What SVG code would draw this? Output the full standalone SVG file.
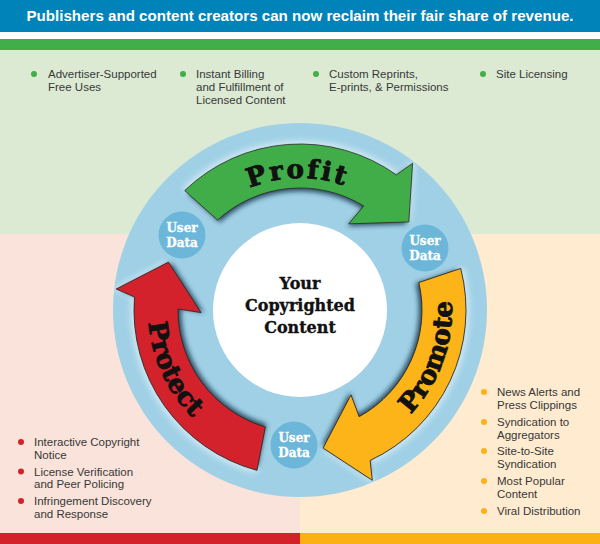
<svg xmlns="http://www.w3.org/2000/svg" xmlns:xlink="http://www.w3.org/1999/xlink" width="600" height="544" viewBox="0 0 600 544">
<style>
.bt{font-family:"Liberation Sans",Arial,sans-serif;font-size:11.5px;fill:#383838}
.ud{font-family:"DejaVu Serif",serif;font-weight:bold;font-size:12px;fill:#ffffff;stroke:#ffffff;stroke-width:0.3;text-anchor:middle}
.ct{font-family:"DejaVu Serif",serif;font-weight:bold;font-size:16px;fill:#111111;stroke:#111111;stroke-width:0.35;text-anchor:middle}
.at{font-family:"DejaVu Serif",serif;font-weight:bold;font-size:26px;fill:#111111;stroke:#111111;stroke-width:0.9;stroke-linejoin:round}
.arr{stroke:#2a2a2a;stroke-width:0.8;stroke-linejoin:miter}
.sh{fill:#0e2c40;opacity:0.85}
.gl{fill:#ffffff;opacity:0.55}
.udc{fill:#6cb7d9}
</style>
<defs>
<path id="pA" d="M184.69,190.59 A166,166 0 0 1 396.40,174.86 L412.62,163.23 L408.80,221.90 L348.75,223.83 L363.75,205.98 A122,122 0 0 0 217.58,220.05 Z"/>
<path id="tProfit" d="M168,310 A132,132 0 0 1 431.92,305.39"/>
<path id="tPromote" d="M250.51,453.72 A152,152 0 0 0 354.47,168.10"/>
<path id="tProtect" d="M233.37,173.38 A152,152 0 0 0 361.82,448.86"/>
<filter id="blur" x="-20%" y="-20%" width="140%" height="140%"><feGaussianBlur stdDeviation="2.5"/></filter>
<filter id="glow" x="-20%" y="-20%" width="140%" height="140%"><feGaussianBlur stdDeviation="3"/></filter>
</defs>

<g id="background">
<rect x="0" y="0" width="600" height="544" fill="#ffffff"/>
<rect x="0" y="0" width="600" height="32" fill="#0083b8"/>
<rect x="0" y="39" width="600" height="11" fill="#40ae49"/>
<rect x="0" y="50" width="600" height="184" fill="#dcead4"/>
<rect x="0" y="234" width="300" height="299" fill="#f9e3da"/>
<rect x="300" y="234" width="300" height="299" fill="#feebd0"/>
<rect x="0" y="533" width="300" height="11" fill="#d2232b"/>
<rect x="300" y="533" width="300" height="11" fill="#fbb116"/>
<text x="300" y="21" text-anchor="middle" textLength="547" lengthAdjust="spacingAndGlyphs" font-family="Liberation Sans,Arial,sans-serif" font-weight="bold" font-size="14" fill="#ffffff">Publishers and content creators can now reclaim their fair share of revenue.</text>
</g>

<g id="ring">
<circle cx="300" cy="310" r="187" fill="#9fd0e6"/>
</g>

<g id="connectors">
<g id="arrow-profit">
<use xlink:href="#pA" class="gl" filter="url(#glow)" transform="translate(300 310) scale(1.02) translate(-300 -310)"/>
<use xlink:href="#pA" class="sh" filter="url(#blur)" transform="translate(300 310) scale(0.975) translate(-300 -310)"/>
<use xlink:href="#pA" class="arr" fill="#40ad48"/>
</g>
<g id="arrow-promote">
<use xlink:href="#pA" class="gl" filter="url(#glow)" transform="rotate(119.5 300 310) translate(300 310) scale(1.02) translate(-300 -310)"/>
<use xlink:href="#pA" class="sh" filter="url(#blur)" transform="rotate(119.5 300 310) translate(300 310) scale(0.975) translate(-300 -310)"/>
<use xlink:href="#pA" class="arr" fill="#fcb418" transform="rotate(119.5 300 310)"/>
</g>
<g id="arrow-protect">
<use xlink:href="#pA" class="gl" filter="url(#glow)" transform="rotate(239 300 310) translate(300 310) scale(1.02) translate(-300 -310)"/>
<use xlink:href="#pA" class="sh" filter="url(#blur)" transform="rotate(239 300 310) translate(300 310) scale(0.975) translate(-300 -310)"/>
<use xlink:href="#pA" class="arr" fill="#d3222b" transform="rotate(239 300 310)"/>
</g>
</g>

<g id="labels">
<text class="at" font-size="27" letter-spacing="2.5"><textPath xlink:href="#tProfit" startOffset="50%" text-anchor="middle">Profit</textPath></text>
<text class="at"><textPath xlink:href="#tPromote" startOffset="50%" text-anchor="middle">Promote</textPath></text>
<text class="at"><textPath xlink:href="#tProtect" startOffset="50%" text-anchor="middle">Protect</textPath></text>
</g>

<g id="center">
<circle cx="300" cy="310" r="87" fill="#ffffff"/>
<text class="ct" x="300" y="289">Your</text>
<text class="ct" x="300" y="311">Copyrighted</text>
<text class="ct" x="300" y="333">Content</text>
</g>

<g id="userdata-1">
<circle class="udc" cx="182" cy="235" r="23.5"/>
<text class="ud" x="182" y="232">User</text>
<text class="ud" x="182" y="247">Data</text>
</g>
<g id="userdata-2">
<circle class="udc" cx="425" cy="248" r="23.5"/>
<text class="ud" x="425" y="245">User</text>
<text class="ud" x="425" y="260">Data</text>
</g>
<g id="userdata-3">
<circle class="udc" cx="294" cy="445" r="23.5"/>
<text class="ud" x="294" y="442">User</text>
<text class="ud" x="294" y="457">Data</text>
</g>

<g id="profit-list" fill="#40ae49">
<circle cx="34" cy="74" r="3"/><circle cx="183" cy="74" r="3"/><circle cx="316" cy="74" r="3"/><circle cx="483" cy="74" r="3"/>
<text class="bt" x="48" y="78">Advertiser-Supported</text>
<text class="bt" x="48" y="91">Free Uses</text>
<text class="bt" x="196" y="78">Instant Billing</text>
<text class="bt" x="196" y="91">and Fulfillment of</text>
<text class="bt" x="196" y="104">Licensed Content</text>
<text class="bt" x="329" y="78">Custom Reprints,</text>
<text class="bt" x="329" y="91">E-prints, &amp; Permissions</text>
<text class="bt" x="496" y="78">Site Licensing</text>
</g>

<g id="protect-list" fill="#d2232a">
<circle cx="21" cy="442" r="3"/><circle cx="21" cy="471.5" r="3"/><circle cx="21" cy="501" r="3"/>
<text class="bt" x="34" y="446">Interactive Copyright</text>
<text class="bt" x="34" y="458.5">Notice</text>
<text class="bt" x="34" y="475.5">License Verification</text>
<text class="bt" x="34" y="488">and Peer Policing</text>
<text class="bt" x="34" y="505">Infringement Discovery</text>
<text class="bt" x="34" y="517.5">and Response</text>
</g>

<g id="promote-list" fill="#fbb117">
<circle cx="484" cy="392" r="3"/><circle cx="484" cy="422" r="3"/><circle cx="484" cy="451" r="3"/><circle cx="484" cy="481" r="3"/><circle cx="484" cy="511" r="3"/>
<text class="bt" x="497" y="396">News Alerts and</text>
<text class="bt" x="497" y="409">Press Clippings</text>
<text class="bt" x="497" y="426">Syndication to</text>
<text class="bt" x="497" y="438.5">Aggregators</text>
<text class="bt" x="497" y="455">Site-to-Site</text>
<text class="bt" x="497" y="468">Syndication</text>
<text class="bt" x="497" y="485">Most Popular</text>
<text class="bt" x="497" y="498">Content</text>
<text class="bt" x="497" y="515">Viral Distribution</text>
</g>
</svg>
